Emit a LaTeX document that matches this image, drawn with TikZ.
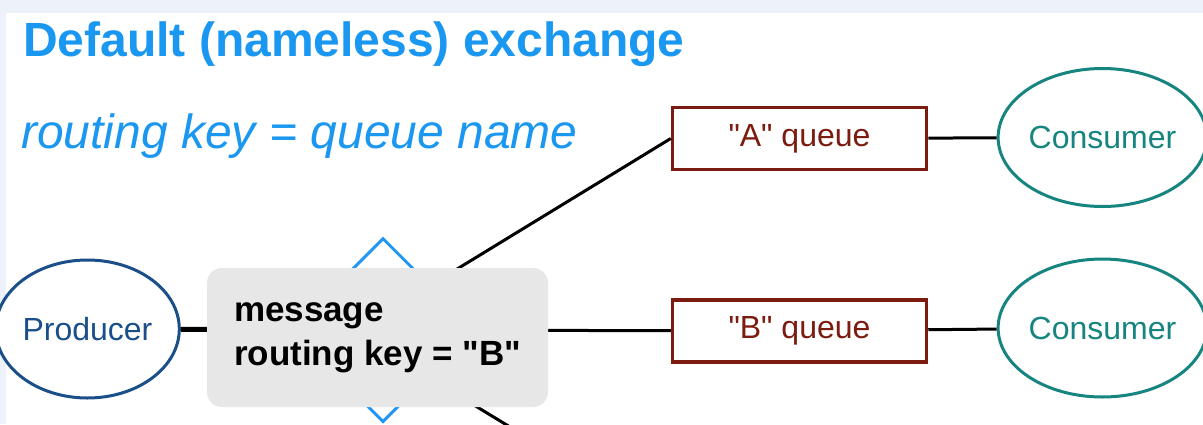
\documentclass[tikz,border=0pt]{standalone}
\usepackage{fontspec}
\setmainfont{Liberation Sans}[Ligatures=TeXOff]
\usetikzlibrary{shapes.geometric}
\definecolor{titleBlue}{HTML}{1A97F0}
\definecolor{exchangeBlue}{HTML}{2196F3}
\definecolor{producerBlue}{HTML}{1B4F8A}
\definecolor{queueRed}{HTML}{7C1B0F}
\definecolor{consumerTeal}{HTML}{17857F}
\definecolor{messageGray}{HTML}{E7E7E7}
\definecolor{pageBlue}{HTML}{EDF1F9}

\begin{document}
\begin{tikzpicture}[x=1pt, y=-1pt,
        link/.style={line width=3pt},
        queuebox/.style={draw=queueRed, line width=3.5pt, fill=white, text=queueRed,
            minimum width=254pt, minimum height=62pt, font=\fontsize{32}{38}\selectfont},
        client/.style={ellipse, line width=3pt, fill=white, minimum width=182pt,
            minimum height=138pt, inner sep=0pt, font=\fontsize{32}{38}\selectfont}]
            \useasboundingbox (0,0) rectangle (1203,424);
            \fill[pageBlue] (0,0) rectangle (1203,424);
            \fill[white] (6,13) rectangle (1203,424);
            \clip (0,0) rectangle (1203,424);

            \node[anchor=base west, inner sep=0pt, text=titleBlue, font=\fontsize{48}{56}\selectfont\bfseries] (title) at (23,56) {Default (nameless) exchange};
            \node[anchor=base west, inner sep=0pt, text=titleBlue, font=\fontsize{48}{56}\selectfont\itshape] (rule) at (21,148) {routing key = queue name};

            \node[diamond, draw=exchangeBlue, line width=3pt, fill=white, minimum width=184pt, minimum height=184pt, inner sep=0pt] (exch) at (383,330) {};
            \node[client, draw=producerBlue, text=producerBlue] (prod) at (87.5,329) {Producer};
            \node[queuebox] (qA) at (799.5,138.5) {"A" queue};
            \node[queuebox] (qB) at (799.5,331) {"B" queue};
            \node[client, draw=consumerTeal, text=consumerTeal] (consA) at (1102.5,137.5) {Consumer};
            \node[client, draw=consumerTeal, text=consumerTeal] (consB) at (1102.5,328) {Consumer};
            \coordinate (hub) at (354,332);
            \coordinate (qC) at (671,525);

            \draw[line width=5pt] (prod) -- (exch);
            \draw[link] (exch) -- (qB);
            \draw[link] (hub) -- (qA.west);
            \draw[link] (hub) -- (qC);
            \draw[link] (qA) -- (consA);
            \draw[link] (qB) -- (consB);

            \node[fill=messageGray, rounded corners=15pt, minimum width=341pt, minimum height=139pt, align=left, font=\fontsize{35}{44}\selectfont\bfseries] (msg) at (377.5,337.5) {message\\routing key = "B"};
        \end{tikzpicture}
\end{document}
